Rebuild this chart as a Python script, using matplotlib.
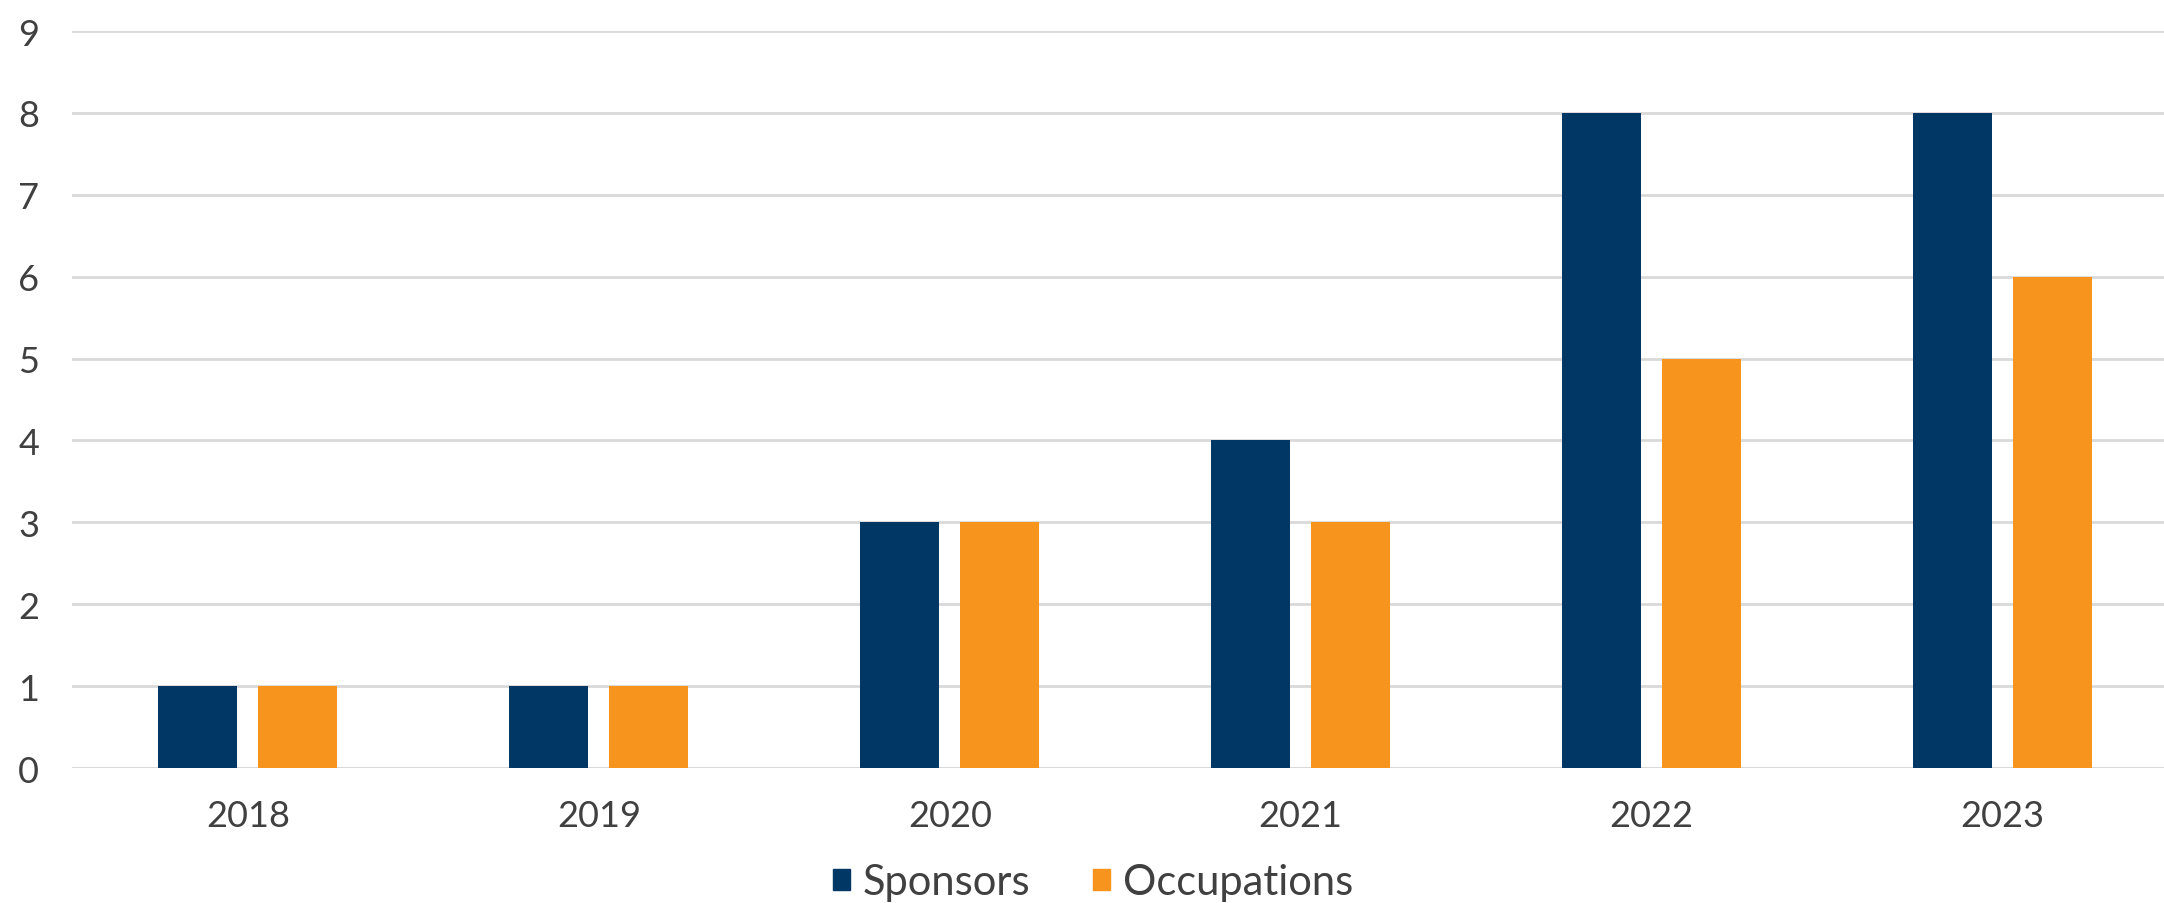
import numpy as np
import matplotlib
matplotlib.use("Agg")
from matplotlib import pyplot as plt
from matplotlib.patches import Patch

years = ["2018", "2019", "2020", "2021", "2022", "2023"]
sponsors = [1, 1, 3, 4, 8, 8]
occupations = [1, 1, 3, 3, 5, 6]

navy = "#003764"
orange = "#F7941E"
grey_txt = "#404040"

plt.rcParams['font.family'] = ['Lato', 'DejaVu Sans']

fig = plt.figure(figsize=(21.64, 9.04), dpi=100)
ax = fig.add_axes([0.0335, 0.1493, 0.973, 0.8153])

x = np.arange(len(years))
w = 0.225
off = 0.1425
ax.bar(x - off, sponsors, w, color=navy, zorder=3)
ax.bar(x + off, occupations, w, color=orange, zorder=3)

ax.set_xlim(-0.5, len(years) - 0.5)
ax.set_ylim(0, 9)
ax.set_yticks(range(10))
ax.yaxis.grid(True, color="#d9d9d9", linewidth=2, zorder=0)
ax.set_xticks(x)
ax.set_xticklabels(years)
for s in ax.spines.values():
    s.set_visible(False)
ax.axhline(0, color="#d9d9d9", linewidth=2, zorder=1)
ax.tick_params(length=0, labelsize=26, colors=grey_txt)
ax.tick_params(axis="y", pad=24)
ax.tick_params(axis="x", pad=22)

handles = [Patch(color=navy, label="Sponsors"), Patch(color=orange, label="Occupations")]
fig.legend(handles=handles, loc="center", bbox_to_anchor=(0.505, 0.023), ncol=2,
           frameon=False, fontsize=30, handlelength=0.42, handleheight=0.42,
           handletextpad=0.3, columnspacing=1.5, labelcolor=grey_txt)

fig.savefig("out.png", dpi=100, facecolor="white")
